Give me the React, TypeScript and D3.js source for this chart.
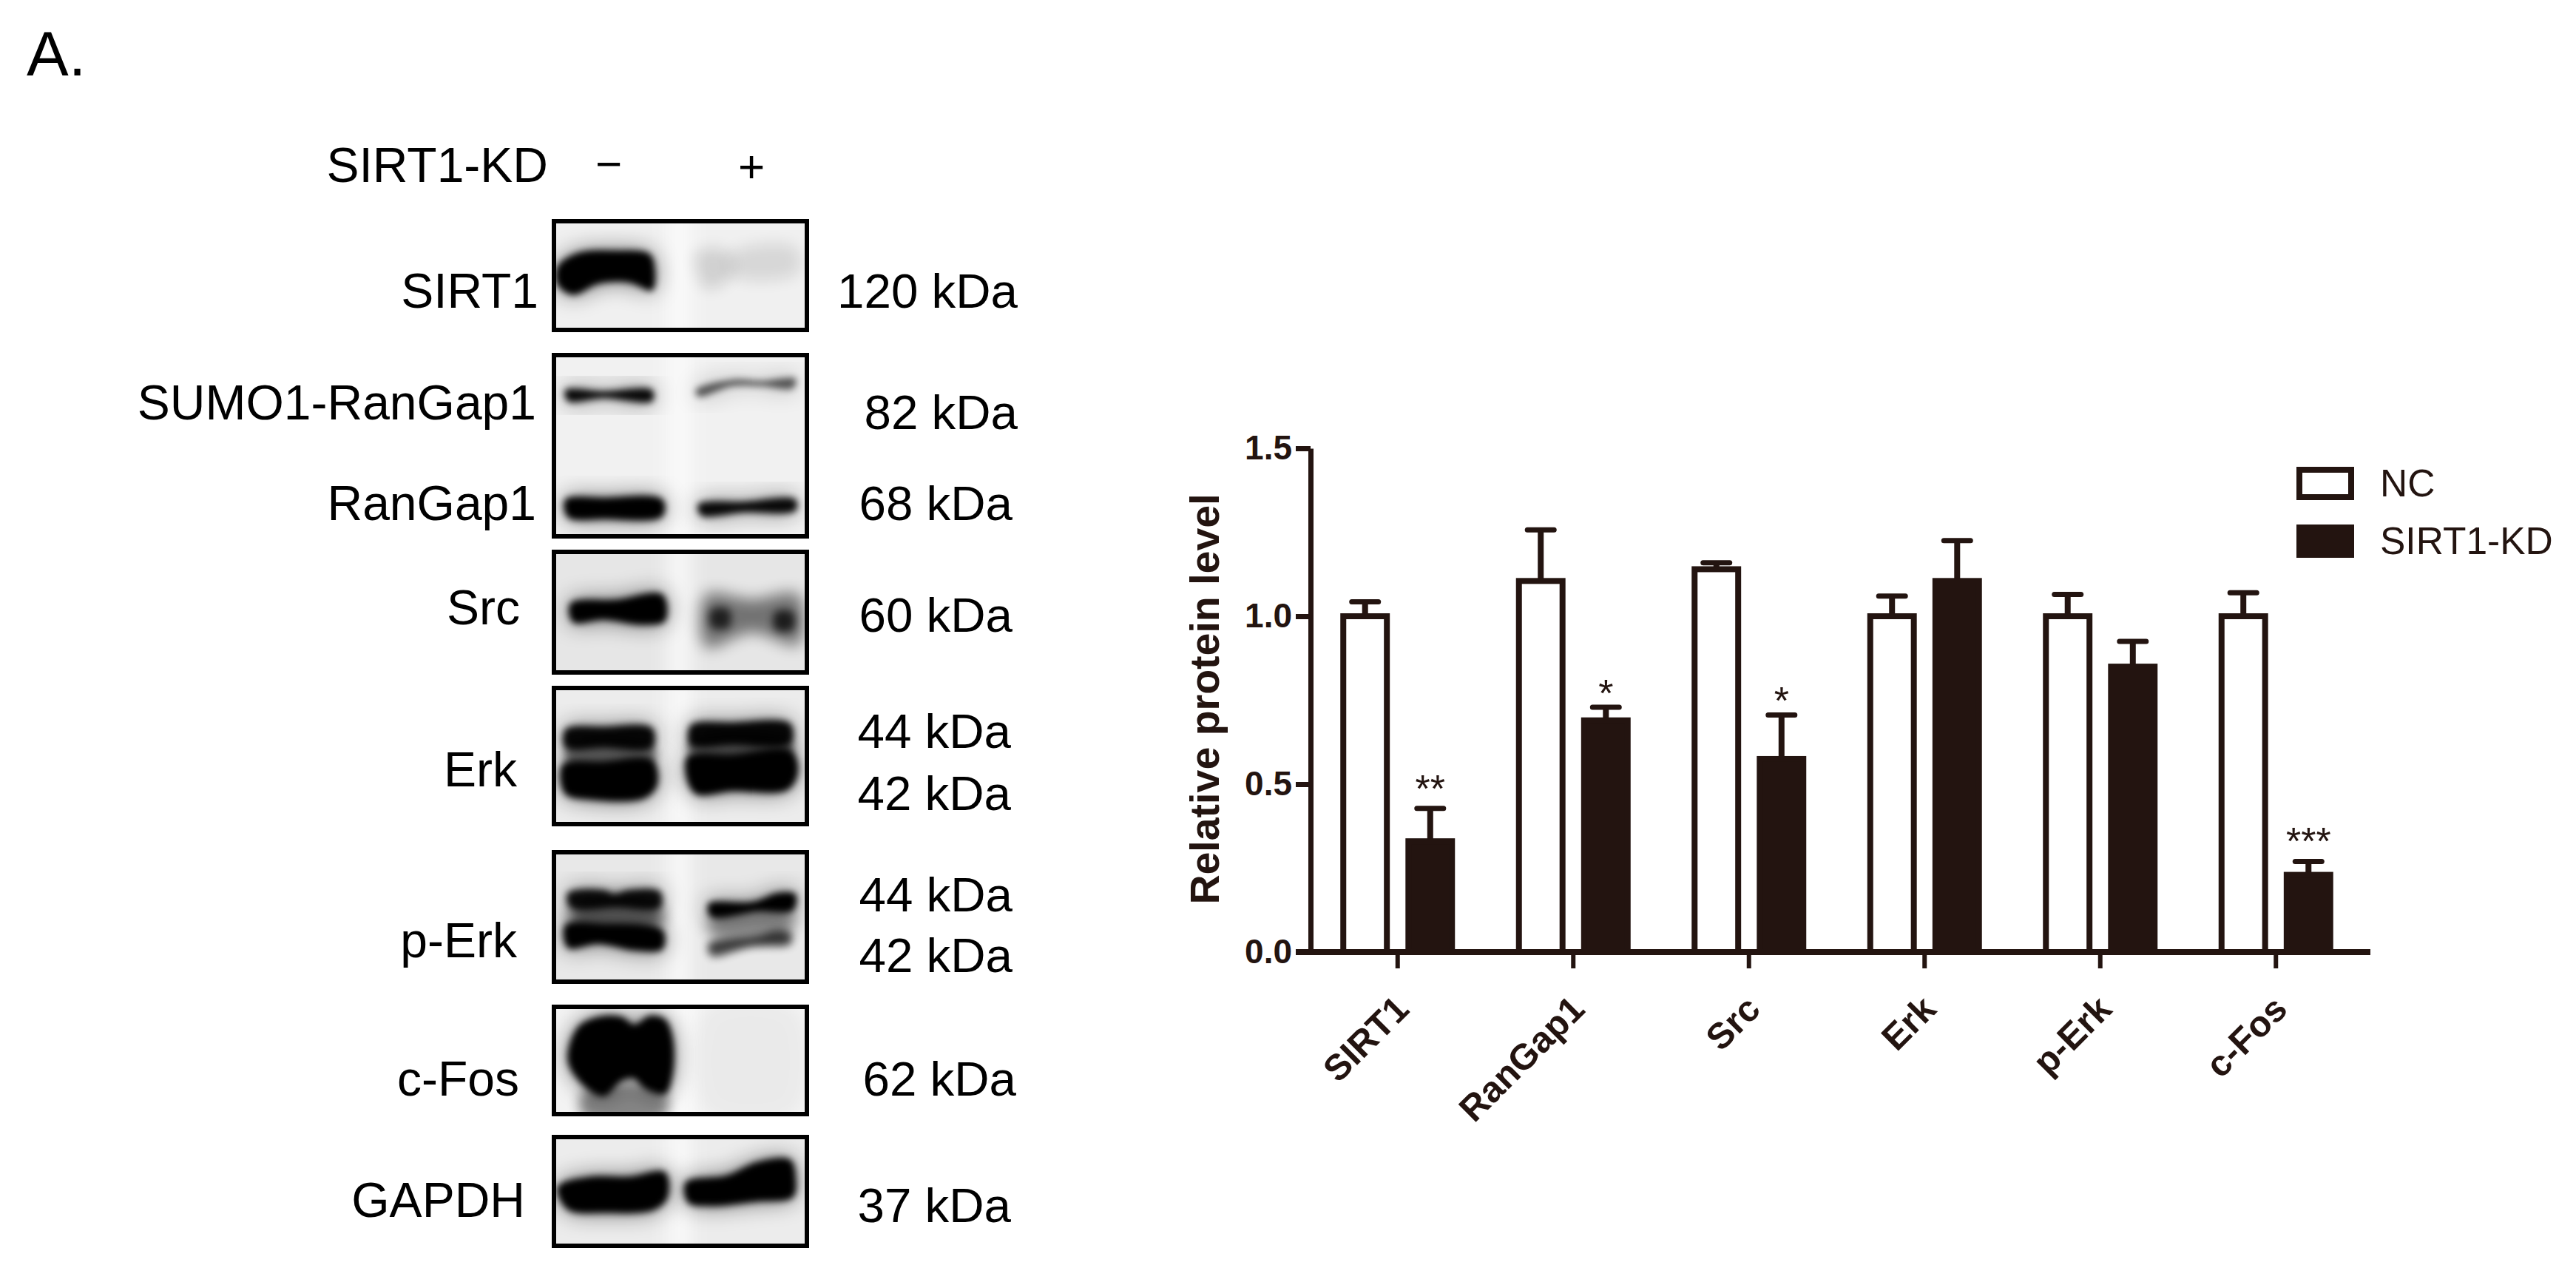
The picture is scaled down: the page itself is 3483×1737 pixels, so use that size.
import React, { useEffect, useRef } from 'react'
import * as d3 from 'd3'

// bar chart values
const categories = ['SIRT1', 'RanGap1', 'Src', 'Erk', 'p-Erk', 'c-Fos']
const seriesNames = ['NC', 'SIRT1-KD']
const ncValues = [1.0, 1.105, 1.14, 1.0, 1.0, 1.0]
const kdValues = [0.33, 0.69, 0.575, 1.105, 0.85, 0.23]
const ncTops = [1.043, 1.257, 1.159, 1.06, 1.065, 1.07]
const kdTops = [0.428, 0.729, 0.706, 1.225, 0.925, 0.27]
const kdStars = ['**', '*', '*', '', '', '***']
const yTicks = [0, 0.5, 1, 1.5]

const INK = '#231410'
const FONT = '"Liberation Sans", Arial, sans-serif'

// western blot panels, band outlines are in panel units (0-1)
type Band = { pts: number[][]; o: number; blur?: number }
type Panel = { top: number; bottom: number; bg: string; bands: Band[] }

const blotPanels: Panel[] = [
  {
    top: 296, bottom: 449, bg: '#f0f0f0',
    bands: [
      { o: 1, pts: [[.02, .42], [.1, .3], [.25, .28], [.38, .31], [.4, .45], [.39, .63], [.3, .56], [.18, .57], [.08, .67], [.02, .58]] },
      { o: .13, blur: 10, pts: [[.56, .3], [.68, .28], [.7, .5], [.6, .62]] },
      { o: .1, blur: 10, pts: [[.7, .3], [.95, .25], [.96, .48], [.7, .5]] },
    ],
  },
  {
    top: 477, bottom: 728, bg: '#f1f1f1',
    bands: [
      { o: .95, pts: [[.05, .2], [.2, .205], [.39, .2], [.39, .26], [.2, .245], [.06, .26]] },
      { o: .62, pts: [[.56, .2], [.7, .145], [.82, .15], [.95, .14], [.94, .19], [.82, .18], [.7, .18], [.57, .235]] },
      { o: 1, pts: [[.05, .79], [.2, .78], [.43, .79], [.43, .88], [.2, .895], [.06, .885]] },
      { o: .95, pts: [[.57, .815], [.75, .8], [.95, .79], [.95, .85], [.75, .86], [.58, .875]] },
    ],
  },
  {
    top: 743, bottom: 912, bg: '#e6e6e6',
    bands: [
      { o: 1, pts: [[.07, .43], [.25, .4], [.43, .36], [.44, .57], [.35, .6], [.2, .56], [.08, .58]] },
      { o: .5, blur: 10, pts: [[.6, .36], [.78, .4], [.96, .36], [.96, .76], [.78, .66], [.6, .78]] },
      { o: .72, blur: 6, pts: [[.62, .48], [.69, .48], [.69, .62], [.62, .62]] },
      { o: .75, blur: 6, pts: [[.87, .5], [.94, .5], [.94, .64], [.87, .64]] },
    ],
  },
  {
    top: 927, bottom: 1117, bg: '#ececec',
    bands: [
      { o: .95, pts: [[.05, .31], [.2, .29], [.39, .3], [.39, .44], [.2, .44], [.05, .44]] },
      { o: .5, blur: 6, pts: [[.06, .42], [.39, .42], [.39, .56], [.06, .56]] },
      { o: 1, pts: [[.04, .56], [.2, .54], [.39, .53], [.41, .7], [.36, .8], [.15, .81], [.05, .77]] },
      { o: .95, pts: [[.54, .28], [.7, .26], [.93, .27], [.93, .41], [.7, .42], [.54, .42]] },
      { o: .55, blur: 6, pts: [[.54, .38], [.93, .38], [.93, .5], [.54, .5]] },
      { o: 1, pts: [[.53, .5], [.7, .49], [.93, .46], [.96, .6], [.92, .74], [.7, .75], [.56, .77], [.52, .62]] },
    ],
  },
  {
    top: 1149, bottom: 1330, bg: '#e8e8e8',
    bands: [
      { o: .92, pts: [[.06, .32], [.2, .3], [.24, .33], [.3, .3], [.42, .31], [.42, .43], [.25, .43], [.07, .43]] },
      { o: .55, blur: 9, pts: [[.08, .4], [.42, .4], [.42, .58], [.08, .58]] },
      { o: 1, pts: [[.05, .56], [.2, .55], [.43, .6], [.43, .74], [.32, .75], [.18, .7], [.06, .73]] },
      { o: 1, pts: [[.61, .4], [.78, .39], [.88, .32], [.95, .33], [.94, .45], [.8, .46], [.62, .5]] },
      { o: .4, blur: 9, pts: [[.62, .48], [.93, .44], [.93, .62], [.62, .64]] },
      { o: .72, blur: 6, pts: [[.61, .7], [.8, .64], [.88, .6], [.93, .62], [.93, .7], [.78, .72], [.62, .79]] },
    ],
  },
  {
    top: 1358, bottom: 1509, bg: '#f3f3f3',
    bands: [
      { o: 1, pts: [[.1, .2], [.18, .11], [.27, .11], [.32, .18], [.38, .1], [.44, .13], [.47, .3], [.47, .62], [.44, .8], [.36, .75], [.32, .66], [.27, .68], [.2, .82], [.12, .72], [.06, .5]] },
      { o: .45, blur: 8, pts: [[.12, .78], [.44, .78], [.44, 1.0], [.12, 1.0]] },
      { o: .03, blur: 10, pts: [[.6, .05], [.95, .05], [.95, .95], [.6, .95]] },
    ],
  },
  {
    top: 1534, bottom: 1687, bg: '#ececec',
    bands: [
      { o: 1, pts: [[.02, .46], [.15, .37], [.3, .37], [.44, .33], [.45, .55], [.4, .66], [.2, .69], [.06, .66]] },
      { o: 1, pts: [[.52, .42], [.68, .36], [.8, .24], [.93, .22], [.95, .38], [.94, .55], [.8, .59], [.62, .63], [.53, .6]] },
    ],
  },
]

const panelX = [747, 1093]
const bandCurve = d3.line().curve(d3.curveCatmullRomClosed.alpha(0.5))

// left side labels
const sideLabels = [
  { text: 'SIRT1', x: 728, y: 416 },
  { text: 'SUMO1-RanGap1', x: 725, y: 567 },
  { text: 'RanGap1', x: 725, y: 703 },
  { text: 'Src', x: 703, y: 844 },
  { text: 'Erk', x: 699, y: 1063 },
  { text: 'p-Erk', x: 699, y: 1294 },
  { text: 'c-Fos', x: 702, y: 1481 },
  { text: 'GAPDH', x: 710, y: 1645 },
]
const sizeLabels = [
  { text: '120 kDa', x: 1376, y: 416 },
  { text: '82 kDa', x: 1376, y: 580 },
  { text: '68 kDa', x: 1369, y: 703 },
  { text: '60 kDa', x: 1369, y: 854 },
  { text: '44 kDa', x: 1367, y: 1011 },
  { text: '42 kDa', x: 1367, y: 1095 },
  { text: '44 kDa', x: 1369, y: 1232 },
  { text: '42 kDa', x: 1369, y: 1314 },
  { text: '62 kDa', x: 1374, y: 1481 },
  { text: '37 kDa', x: 1367, y: 1652 },
]

function App() {
  const ref = useRef<SVGSVGElement>(null)

  useEffect(() => {
    const svg = d3.select(ref.current)
    svg.selectAll('*').remove()
    const defs = svg.append('defs')

    const blurs = [5, 6, 8, 9, 10, 16]
    blurs.forEach(b => {
      defs.append('filter')
        .attr('id', 'blur' + b)
        .attr('x', '-50%').attr('y', '-80%')
        .attr('width', '200%').attr('height', '260%')
        .append('feGaussianBlur')
        .attr('stdDeviation', b)
    })
    // the lane gap is narrow so it needs a wider filter region
    defs.append('filter')
      .attr('id', 'laneBlur')
      .attr('x', '-300%').attr('y', '-20%')
      .attr('width', '700%').attr('height', '140%')
      .append('feGaussianBlur')
      .attr('stdDeviation', 14)

    // ---- blots ----
    const blots = svg.append('g')
    const panelW = panelX[1] - panelX[0]
    blotPanels.forEach((p, i) => {
      const px = d3.scaleLinear().domain([0, 1]).range(panelX)
      const py = d3.scaleLinear().domain([0, 1]).range([p.top, p.bottom])
      defs.append('clipPath').attr('id', 'panel' + i)
        .append('rect')
        .attr('x', panelX[0]).attr('y', p.top)
        .attr('width', panelW).attr('height', p.bottom - p.top)

      const g = blots.append('g').attr('clip-path', 'url(#panel' + i + ')')
      g.append('rect')
        .attr('x', panelX[0]).attr('y', p.top)
        .attr('width', panelW).attr('height', p.bottom - p.top)
        .attr('fill', p.bg)
      // lighter gap between the two lanes
      g.append('rect')
        .attr('x', px(.46)).attr('y', p.top - 20)
        .attr('width', px(.53) - px(.46)).attr('height', p.bottom - p.top + 40)
        .attr('fill', '#fdfdfd')
        .attr('filter', 'url(#laneBlur)')

      p.bands.forEach(b => {
        const d = bandCurve(b.pts.map(q => [px(q[0]), py(q[1])] as [number, number]))
        if (!b.blur) {
          g.append('path').attr('d', d).attr('fill', '#000')
            .attr('opacity', b.o * 0.55)
            .attr('filter', 'url(#blur16)')
        }
        g.append('path').attr('d', d).attr('fill', '#000')
          .attr('opacity', b.o)
          .attr('filter', 'url(#blur' + (b.blur || 5) + ')')
      })

      blots.append('rect')
        .attr('x', panelX[0] + 2).attr('y', p.top + 3)
        .attr('width', panelW - 4).attr('height', p.bottom - p.top - 6)
        .attr('fill', 'none')
        .attr('stroke', '#000')
        .attr('stroke-width', 6)
    })

    const addText = (text: string, x: number, y: number, size: number, anchor = 'end') =>
      svg.append('text')
        .attr('x', x).attr('y', y)
        .attr('text-anchor', anchor)
        .attr('font-family', FONT)
        .attr('font-size', size)
        .attr('fill', '#000')
        .text(text)

    addText('A.', 36, 102, 85, 'start')
    addText('SIRT1-KD', 741, 246, 66)
    addText('\u2212', 823, 243, 62, 'middle')
    addText('+', 1016, 246, 62, 'middle')
    sideLabels.forEach(l => addText(l.text, l.x, l.y, 66))
    sizeLabels.forEach(l => addText(l.text, l.x, l.y, 65.5))

    // ---- bar chart ----
    const x = d3.scaleBand().domain(categories).range([1771, 3196])
    const inner = d3.scaleBand().domain(seriesNames).range([0, 155]).paddingInner(0.24)
    const y = d3.scaleLinear().domain([0, 1.5]).range([1287, 606])
    const innerLeft = (c: string) => (x(c) as number) + x.bandwidth() / 2 - 155 / 2
    const barW = inner.bandwidth()
    const chart = svg.append('g')

    const drawSeries = (name: string, values: number[], tops: number[], filled: boolean) => {
      categories.forEach((c, i) => {
        const bx = innerLeft(c) + (inner(name) as number)
        const cx = bx + barW / 2
        // error bar goes behind the bar
        chart.append('line')
          .attr('x1', cx).attr('x2', cx)
          .attr('y1', y(values[i])).attr('y2', y(tops[i]))
          .attr('stroke', INK).attr('stroke-width', 8)
        chart.append('line')
          .attr('x1', cx - 18).attr('x2', cx + 18)
          .attr('y1', y(tops[i])).attr('y2', y(tops[i]))
          .attr('stroke', INK).attr('stroke-width', 7)
          .attr('stroke-linecap', 'round')
        chart.append('rect')
          .attr('x', bx + 4).attr('y', y(values[i]))
          .attr('width', barW - 8).attr('height', y(0) - y(values[i]))
          .attr('fill', filled ? INK : '#fff')
          .attr('stroke', INK).attr('stroke-width', 8)
      })
    }
    drawSeries('NC', ncValues, ncTops, false)
    drawSeries('SIRT1-KD', kdValues, kdTops, true)

    kdStars.forEach((s, i) => {
      if (!s) return
      const cx = innerLeft(categories[i]) + (inner('SIRT1-KD') as number) + barW / 2
      chart.append('text')
        .attr('x', cx)
        .attr('y', y(kdTops[i]) - 9 + (s === '*' ? 8 : 0))
        .attr('text-anchor', 'middle')
        .attr('font-family', FONT)
        .attr('font-size', 52)
        .attr('fill', INK)
        .text(s)
    })

    const yAxis = d3.axisLeft(y)
      .tickValues(yTicks)
      .tickFormat(d3.format('.1f') as any)
      .tickSize(20)
      .tickSizeOuter(0)
      .tickPadding(5)
    const yG = chart.append('g')
      .attr('transform', 'translate(1772,0)')
      .call(yAxis as any)

    const xAxis = d3.axisBottom(x).tickSize(22).tickSizeOuter(0).tickFormat(() => '')
    const xG = chart.append('g')
      .attr('transform', 'translate(0,1287)')
      .call(xAxis as any)
    xG.select('.domain').remove()
    chart.append('line')
      .attr('x1', 1752).attr('x2', x.range()[1] + 9)
      .attr('y1', y(0)).attr('y2', y(0))
      .attr('stroke', INK).attr('stroke-width', 8)

    yG.selectAll('line').attr('stroke', INK).attr('stroke-width', 7)
    yG.select('.domain').attr('stroke', INK).attr('stroke-width', 7)
    xG.selectAll('line').attr('stroke', INK).attr('stroke-width', 6)
    yG.selectAll('text')
      .attr('font-family', FONT)
      .attr('font-size', 46)
      .attr('font-weight', 'bold')
      .attr('fill', INK)

    // x labels at 45 degrees
    categories.forEach(c => {
      const tx = (x(c) as number) + x.bandwidth() / 2 + 18
      chart.append('text')
        .attr('transform', 'translate(' + tx + ',1367) rotate(-45)')
        .attr('text-anchor', 'end')
        .attr('font-family', FONT)
        .attr('font-size', 49)
        .attr('font-weight', 'bold')
        .attr('fill', INK)
        .text(c)
    })

    // y title
    chart.append('text')
      .attr('transform', 'translate(1648,945) rotate(-90)')
      .attr('text-anchor', 'middle')
      .attr('font-family', FONT)
      .attr('font-size', 55.5)
      .attr('font-weight', 'bold')
      .attr('fill', INK)
      .text('Relative protein level')

    // legend
    const legend = svg.append('g')
    seriesNames.forEach((name, i) => {
      const ly = [631, 709][i]
      legend.append('rect')
        .attr('x', 3109).attr('y', ly + 4)
        .attr('width', 70).attr('height', 37)
        .attr('fill', i === 0 ? '#fff' : INK)
        .attr('stroke', INK).attr('stroke-width', 8)
      legend.append('text')
        .attr('x', 3218).attr('y', ly + 40)
        .attr('font-family', FONT)
        .attr('font-size', 51.5)
        .attr('fill', INK)
        .text(name)
    })
  }, [])

  return (
    <svg
      ref={ref}
      width={3483}
      height={1737}
      style={{ position: 'absolute', left: 0, top: 0, background: '#fff' }}
    />
  )
}

export default App
